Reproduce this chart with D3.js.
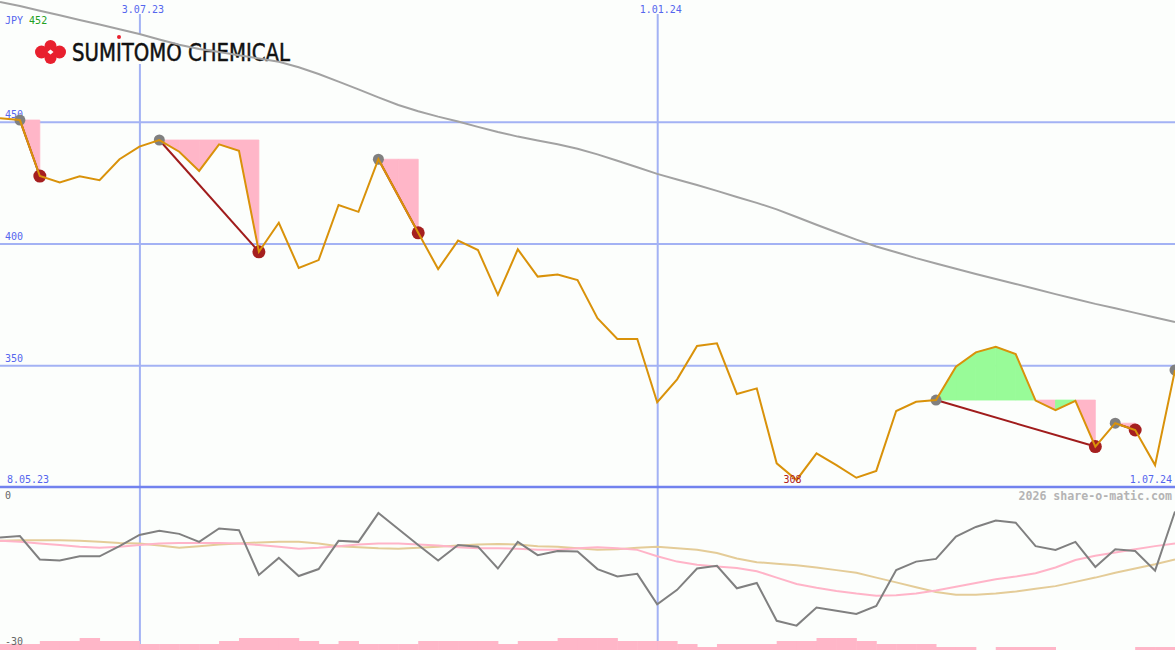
<!DOCTYPE html>
<html><head><meta charset="utf-8">
<script src="https://cdn.jsdelivr.net/npm/d3@7"></script>
<style>html,body{margin:0;padding:0;background:#fcfefc;overflow:hidden}svg{display:block}</style>
</head><body><svg id="c" width="1175" height="650"></svg>
<script>
// ---------- DATA ----------
const dates = ["2023-05-15","2023-05-22","2023-05-29","2023-06-05","2023-06-12","2023-06-19","2023-06-26","2023-07-03","2023-07-10","2023-07-17",
"2023-07-24","2023-07-31","2023-08-07","2023-08-14","2023-08-21","2023-08-28","2023-09-04","2023-09-11","2023-09-18","2023-09-25",
"2023-10-02","2023-10-09","2023-10-16","2023-10-23","2023-10-30","2023-11-06","2023-11-13","2023-11-20","2023-11-27","2023-12-04",
"2023-12-11","2023-12-18","2023-12-25","2024-01-01","2024-01-08","2024-01-15","2024-01-22","2024-01-29","2024-02-05","2024-02-12",
"2024-02-19","2024-02-26","2024-03-04","2024-03-11","2024-03-18","2024-03-25","2024-04-01","2024-04-08","2024-04-15","2024-04-22",
"2024-04-29","2024-05-06","2024-05-13","2024-05-20","2024-05-27","2024-06-03","2024-06-10","2024-06-17","2024-06-24","2024-07-01"];
const closePrice = [451.4,450.7,427.7,425.1,427.6,426.0,434.6,439.8,442.5,437.7,
429.8,440.7,438.1,396.6,408.5,390.0,393.2,415.8,413.0,434.6,
419.5,404.4,389.5,401.2,397.3,378.9,397.6,386.4,387.3,385.0,
369.3,360.8,360.8,334.8,344.2,357.9,359.0,338.2,340.5,309.7,
302.9,313.8,309.0,303.8,306.6,331.2,335.0,335.7,349.4,355.3,
357.6,354.6,335.5,331.6,335.4,316.6,326.2,323.4,309.0,348.0];
const movingAvg = [499.2,497.5,495.6,493.7,491.8,489.9,488.0,486.0,483.8,481.6,
479.9,478.6,477.3,476.0,474.6,472.4,469.6,466.5,463.3,460.0,
456.9,454.3,452.1,450.1,447.9,445.8,443.9,442.3,440.8,438.9,
436.6,434.0,431.3,428.6,426.3,424.0,421.6,419.1,416.7,414.0,
410.9,407.7,404.6,401.6,398.8,396.4,394.0,391.8,389.6,387.5,
385.4,383.4,381.3,379.2,377.2,375.2,373.4,371.5,369.6,367.8];
const momentum = [-9.3,-9.0,-13.4,-13.6,-12.8,-12.8,-10.9,-8.8,-8.0,-8.6,
-10.1,-7.6,-7.9,-16.3,-13.1,-16.5,-15.2,-9.9,-10.1,-4.7,
-7.7,-10.7,-13.6,-10.7,-11.0,-15.1,-10.1,-12.6,-11.8,-11.9,
-15.2,-16.6,-16.1,-21.8,-19.1,-15.1,-14.6,-18.8,-17.8,-24.9,
-25.8,-22.4,-23.0,-23.6,-22.1,-15.4,-13.8,-13.3,-9.1,-7.3,
-6.1,-6.5,-10.9,-11.6,-10.1,-14.8,-11.5,-11.8,-15.5,-4.4];
const momAvgFast = [-9.9,-10.1,-10.4,-10.7,-11.0,-11.2,-11.0,-10.7,-10.4,-10.3,
-10.3,-10.3,-10.4,-10.7,-11.0,-11.4,-11.2,-10.9,-10.6,-10.4,
-10.4,-10.6,-10.8,-11.1,-11.3,-11.3,-11.4,-11.6,-11.6,-11.3,
-11.1,-11.3,-11.6,-12.8,-13.8,-14.4,-14.7,-15.0,-15.6,-16.8,
-18.0,-18.7,-19.3,-19.8,-20.2,-20.1,-19.8,-19.2,-18.5,-17.8,
-17.1,-16.6,-16.0,-14.9,-13.5,-12.7,-12.1,-11.5,-10.9,-10.4];
const momAvgSlow = [-9.9,-9.8,-9.8,-9.8,-9.9,-10.1,-10.3,-10.4,-10.8,-11.2,
-10.9,-10.6,-10.4,-10.2,-10.1,-10.1,-10.4,-10.9,-11.1,-11.3,
-11.4,-11.2,-11.0,-10.8,-10.6,-10.5,-10.6,-10.9,-11.0,-11.3,
-11.6,-11.5,-11.2,-11.0,-11.3,-11.6,-12.2,-13.2,-13.9,-14.2,
-14.5,-14.9,-15.4,-15.9,-16.8,-17.7,-18.6,-19.5,-20.0,-20.0,
-19.8,-19.4,-18.9,-18.4,-17.6,-16.8,-15.9,-15.1,-14.3,-13.4];
const volumeLevel = [2,2,3,3,4,3,3,2,2,2,
2,3,4,4,4,3,2,3,2,2,
2,3,3,3,3,2,3,3,4,4,
4,3,3,3,2,1,2,2,2,3,
3,4,4,3,2,2,2,1,1,0,
1,1,1,0,0,0,0,1,1,1];
const priceTicks = [350,400,450];
const dateTicks = ["2023-07-03","2024-01-01"];
const dateTickLabels = ["3.07.23","1.01.24"];
const peakDates   = ["2023-05-22","2023-07-10","2023-09-25","2024-04-08","2024-06-10","2024-07-01"];
const troughDates = ["2023-05-29","2023-08-14","2023-10-09","2024-06-03","2024-06-17"];
// drawdown zones: peak date, trough date, colour of each weekly interval
const zonePeaks   = ["2023-05-22","2023-07-10","2023-09-25","2024-04-08","2024-06-10"];
const zoneTroughs = ["2023-05-29","2023-08-14","2023-10-09","2024-06-03","2024-06-17"];
const zoneColors  = [["dn"],["dn","dn","dn","dn","dn"],["dn","dn"],["up","up","up","up","up","dn","up","dn"],["dn"]];
const minLabel = "308", minDate = "2024-02-19";
const currencyLabel = "JPY", currencyValue = "452";

// ---------- SETUP ----------
const W = 1175, H = 650;
const parse = d3.utcParse("%Y-%m-%d");
const pts = dates.map((d,i)=>({date:parse(d), close:closePrice[i], ma:movingAvg[i], mom:momentum[i], f:momAvgFast[i], s:momAvgSlow[i], vol:volumeLevel[i]}));
const idx = {}; dates.forEach((d,i)=>idx[d]=i);

const x = d3.scaleUtc().domain([parse("2023-05-15"), parse("2024-07-01")]).range([0, W]);
const y = d3.scaleLinear().domain([300, 500]).range([487, 0]);
const yi = d3.scaleLinear().domain([-30, 0]).range([648, 488]);
const yv = d3.scaleLinear().domain([0, 4]).range([650, 638]);

const svg = d3.select("#c");
svg.append("rect").attr("width",W).attr("height",H).attr("fill","#fcfefc");

const MONO = "'DejaVu Sans Mono', monospace";
const BLUE_TXT = "#5566ee";

// vertical date gridlines
const vAxis = svg.append("g").attr("transform","translate(0,14)")
  .call(d3.axisBottom(x).tickValues(dateTicks.map(parse)).tickSize(650).tickFormat((d,i)=>dateTickLabels[i]));
vAxis.select(".domain").remove();
vAxis.selectAll("line").attr("stroke","#a3b2f4").attr("stroke-width",2);
vAxis.selectAll("text").attr("y",-1).attr("dy",0).attr("dx",3).attr("fill",BLUE_TXT)
  .style("font-family",MONO).style("font-size","10px");

// horizontal price gridlines
const hAxis = svg.append("g")
  .call(d3.axisRight(y).tickValues(priceTicks).tickSize(W).tickFormat(d3.format("d")));
hAxis.select(".domain").remove();
hAxis.selectAll("line").attr("stroke","#a3b2f4").attr("stroke-width",2);
hAxis.selectAll("text").attr("x",5).attr("dy",-4).attr("text-anchor","start").attr("fill",BLUE_TXT)
  .style("font-family",MONO).style("font-size","10px");

// bottom base line (300)
svg.append("line").attr("x1",0).attr("x2",W).attr("y1",y(300)).attr("y2",y(300))
  .attr("stroke","#7282ee").attr("stroke-width",2.5);

// logo
const logo = svg.append("g");
logo.append("rect").attr("x",32).attr("y",35).attr("width",262).attr("height",29).attr("fill","#fcfefc");
const cx = 50.5, cy = 52;
[[-9,0,6.5],[9,0,6.5],[0,-6,6],[0,6,6]].forEach(([dx,dy,r])=>{
  logo.append("circle").attr("cx",cx+dx).attr("cy",cy+dy).attr("r",r).attr("fill","#e8202e");
});
logo.append("path").attr("d",`M${cx-10},${cy} L${cx},${cy-8} L${cx+10},${cy} L${cx},${cy+8} Z`).attr("fill","#e8202e");
logo.append("path").attr("d",`M${cx-3},${cy} L${cx},${cy-2.5} L${cx+3},${cy} L${cx},${cy+2.5} Z`).attr("fill","#fcfefc");
logo.append("text").attr("x",72).attr("y",61).text("SUMITOMO CHEMICAL")
  .attr("textLength",218).attr("lengthAdjust","spacingAndGlyphs")
  .style("font-family","'Liberation Sans Narrow','DejaVu Sans Condensed','Liberation Sans',sans-serif")
  .style("font-size","25px").attr("fill","#111").attr("stroke","#111").attr("stroke-width",0.5);
logo.append("circle").attr("cx",119).attr("cy",37).attr("r",2).attr("fill","#e8202e");

// top-left currency
const cur = svg.append("text").attr("x",5).attr("y",24).style("font-family",MONO).style("font-size","10px");
cur.append("tspan").attr("fill",BLUE_TXT).text(currencyLabel+" ");
cur.append("tspan").attr("fill","#22a022").text(currencyValue);

// drawdown zone fills
const fillCol = {up:"#98fb98", dn:"#ffb6c8"};
zonePeaks.forEach((pd,z)=>{
  const a = idx[pd], b = idx[zoneTroughs[z]], lvl = pts[a].close;
  for(let j=a;j<b;j++){
    const p0 = pts[j], p1 = pts[j+1], c = fillCol[zoneColors[z][j-a]];
    svg.append("path")
      .attr("d",`M${x(p0.date)},${y(lvl)}L${x(p0.date)},${y(p0.close)}L${x(p1.date)},${y(p1.close)}L${x(p1.date)},${y(lvl)}Z`)
      .attr("fill",c).attr("stroke",c).attr("stroke-width",0.8).attr("stroke-linejoin","miter");
  }
});

// moving average
svg.append("path").datum(pts).attr("fill","none").attr("stroke","#a2a2a2").attr("stroke-width",2)
  .attr("d",d3.line().x(d=>x(d.date)).y(d=>y(d.ma)));

// drawdown lines
zonePeaks.forEach((pd,z)=>{
  const a = pts[idx[pd]], b = pts[idx[zoneTroughs[z]]];
  svg.append("line").attr("x1",x(a.date)).attr("y1",y(a.close)).attr("x2",x(b.date)).attr("y2",y(b.close))
    .attr("stroke","#a01c1c").attr("stroke-width",2);
});

// markers
svg.selectAll(".pk").data(peakDates).enter().append("circle")
  .attr("cx",d=>x(parse(d))).attr("cy",d=>y(pts[idx[d]].close)).attr("r",5.5).attr("fill","#808080");
svg.selectAll(".tr").data(troughDates).enter().append("circle")
  .attr("cx",d=>x(parse(d))).attr("cy",d=>y(pts[idx[d]].close)).attr("r",6.5).attr("fill","#a51f1f");

// price line
svg.append("path").datum(pts).attr("fill","none").attr("stroke","#d9920a").attr("stroke-width",2)
  .attr("d",d3.line().x(d=>x(d.date)).y(d=>y(d.close)));

// labels on base
svg.append("text").attr("x",7).attr("y",483).text("8.05.23").attr("fill",BLUE_TXT).style("font-family",MONO).style("font-size","10px");
svg.append("text").attr("x",1172).attr("y",483).attr("text-anchor","end").text("1.07.24").attr("fill",BLUE_TXT).style("font-family",MONO).style("font-size","10px");
svg.append("text").attr("x",x(parse(minDate))-4).attr("y",483).attr("text-anchor","middle").text(minLabel).attr("fill","#b02020").style("font-family",MONO).style("font-size","10px");
svg.append("text").attr("x",1172).attr("y",500).attr("text-anchor","end").text("2026 share-o-matic.com")
  .attr("fill","#b4b4b4").style("font-family",MONO).style("font-size","11.6px").style("font-weight","bold");

// lower panel
svg.append("text").attr("x",5).attr("y",499).text("0").attr("fill","#666").style("font-family",MONO).style("font-size","10px");
svg.append("path").datum(pts).attr("fill","none").attr("stroke","#e4cc98").attr("stroke-width",2)
  .attr("d",d3.line().x(d=>x(d.date)).y(d=>yi(d.s)));
svg.append("path").datum(pts).attr("fill","none").attr("stroke","#ffb4c8").attr("stroke-width",2)
  .attr("d",d3.line().x(d=>x(d.date)).y(d=>yi(d.f)));
svg.append("path").datum(pts).attr("fill","none").attr("stroke","#808080").attr("stroke-width",2)
  .attr("d",d3.line().x(d=>x(d.date)).y(d=>yi(d.mom)));

// volume bars
svg.selectAll(".vb").data(pts.slice(0,-1)).enter().append("rect")
  .attr("x",(d,i)=>x(d.date)).attr("width",(d,i)=>x(pts[i+1].date)-x(d.date)+0.5)
  .attr("y",d=>yv(d.vol)).attr("height",d=>yv(0)-yv(d.vol)).attr("fill","#ffb6c8");
svg.append("text").attr("x",5).attr("y",645).text("-30").attr("fill","#666").style("font-family",MONO).style("font-size","10px");
</script></body></html>
